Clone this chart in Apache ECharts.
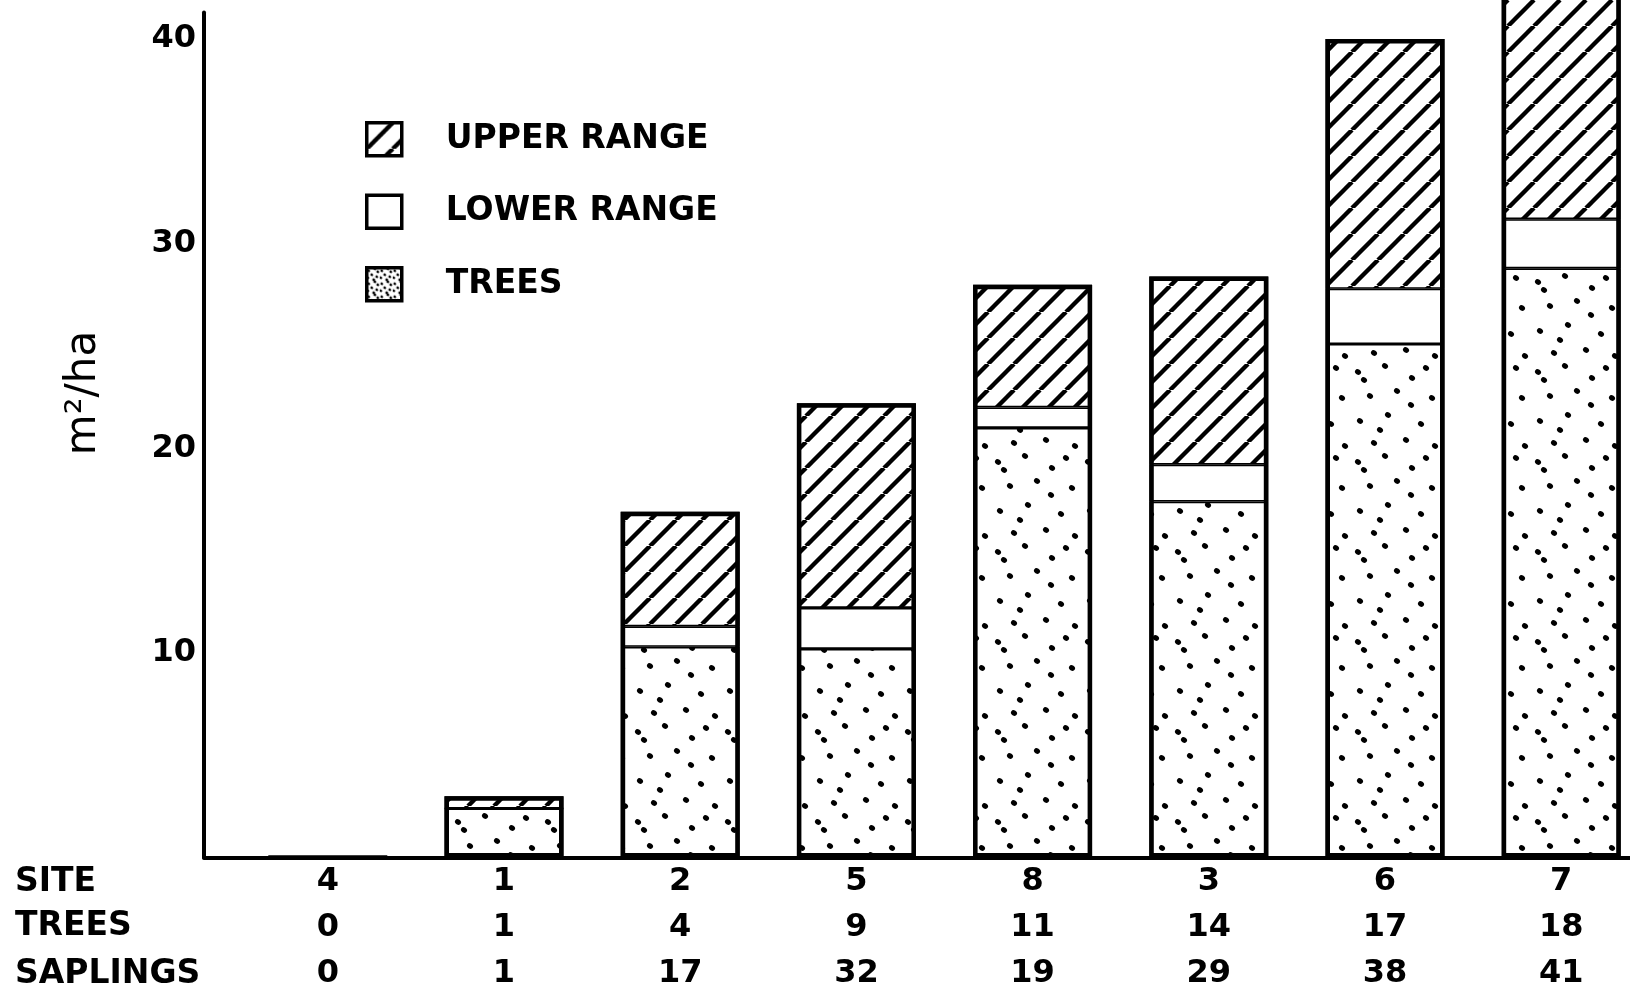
<!DOCTYPE html>
<html>
<head>
<meta charset="utf-8">
<script src="https://cdn.jsdelivr.net/npm/echarts@6/dist/echarts.min.js"></script>
<style>
html,body{margin:0;padding:0;background:#fff;}
#chart{width:1630px;height:992px;}
</style>
</head>
<body>
<div id="chart"></div>
<script>
// ---- data ----
const sites = ['4', '1', '2', '5', '8', '3', '6', '7'];
const treeCounts = ['0', '1', '4', '9', '11', '14', '17', '18'];
const saplingCounts = ['0', '1', '17', '32', '19', '29', '38', '41'];
const treesBA = [0, 2.4, 10.3, 10.2, 21.0, 17.4, 25.1, 28.8];
const lowerRange = [0, 0, 1.0, 2.0, 1.0, 1.8, 2.7, 2.4];
const upperRange = [0, 0.6, 5.6, 10.0, 6.0, 9.2, 12.2, 13.0];
const yTickLabels = [10, 20, 30, 40];
const rowTitles = ['SITE', 'TREES', 'SAPLINGS'];

// ---- textures ----
function hatchPattern() {
  const s = 26;
  const c = document.createElement('canvas');
  c.width = s; c.height = s;
  const g = c.getContext('2d');
  g.fillStyle = '#fff'; g.fillRect(0, 0, s, s);
  g.strokeStyle = '#000'; g.lineWidth = 4.4; g.lineCap = 'butt';
  for (let k = -1; k <= 1; k++) {
    g.beginPath();
    g.moveTo(k * s, s);
    g.lineTo(k * s + s, 0);
    g.stroke();
  }
  return { image: c, repeat: 'repeat' };
}
function dotPattern(s, dots, rx, ry) {
  const c = document.createElement('canvas');
  c.width = s; c.height = s;
  const g = c.getContext('2d');
  g.fillStyle = '#fff'; g.fillRect(0, 0, s, s);
  g.fillStyle = '#000';
  dots.forEach(function (d) {
    g.beginPath();
    g.ellipse(d[0], d[1], rx, ry, 0.6, 0, Math.PI * 2);
    g.fill();
  });
  return { image: c, repeat: 'repeat' };
}
const barDots = [[8,12],[35,6],[62,18],[82,38],[20,36],[47,31],[71,64],[10,61],[38,55],[56,80],[24,83],[85,86],[61,45],[30,70],[14,20],[76,8]];
const iconDots = [[2,3],[8,1],[5,7],[10,9],[1,10],[7,12],[11,4]];

const FONT = 'DejaVu Sans';
const chart = echarts.init(document.getElementById('chart'), null, { renderer: 'canvas' });
const BAR_W = 119;

function barSeries(name, values, color) {
  return {
    name: name,
    type: 'bar',
    stack: 'total',
    xAxisIndex: 1,
    yAxisIndex: 1,
    barWidth: BAR_W,
    barGap: '-100%',
    clip: false,
    itemStyle: { color: color, borderColor: '#000', borderWidth: 1.6 },
    emphasis: { disabled: true },
    data: values
  };
}

// outer outline of each stacked column (sum of the three segments)
const columnTotals = treesBA.map(function (v, i) { return v + lowerRange[i] + upperRange[i]; });

const Y_MAX = 41.3;
const option = {
  backgroundColor: '#fff',
  animation: false,
  grid: [
    { left: 204, right: 0, top: 12.5, bottom: 134.4, containLabel: false, outerBoundsMode: 'none' },
    { left: 239.7, right: -19.3, top: 12.5, bottom: 134.4, containLabel: false, outerBoundsMode: 'none' }
  ],
  legend: {
    orient: 'vertical',
    left: 365,
    top: 121,
    padding: 0,
    itemWidth: 35,
    itemHeight: 33,
    itemGap: 36,
    icon: 'rect',
    data: [
      { name: 'UPPER RANGE' },
      { name: 'LOWER RANGE' },
      { name: 'TREES', itemStyle: { color: dotPattern(13, iconDots, 1.5, 1.3) } }
    ],
    selectedMode: false,
    itemStyle: { borderWidth: 3.5, borderColor: '#000' },
    textStyle: { fontFamily: FONT, fontSize: 33, fontWeight: 'bold', color: '#000', padding: [0, 0, 0, 39] }
  },
  xAxis: [
    {
      gridIndex: 0,
      type: 'value',
      min: 0,
      max: 1,
      axisLine: { show: true, onZero: false, lineStyle: { color: '#000', width: 4 } },
      axisTick: { show: false },
      splitLine: { show: false },
      axisLabel: { show: false }
    },
    {
      gridIndex: 1,
      type: 'category',
      data: sites,
      axisLine: { show: false },
      axisTick: { show: false },
      splitLine: { show: false },
      axisLabel: {
        interval: 0,
        margin: 1,
        fontFamily: FONT,
        fontSize: 32,
        fontWeight: 'bold',
        color: '#000',
        lineHeight: 46,
        formatter: function (v, i) {
          return sites[i] + '\n' + treeCounts[i] + '\n' + saplingCounts[i];
        }
      }
    }
  ],
  yAxis: [
    {
      gridIndex: 0,
      type: 'value',
      min: 0,
      max: Y_MAX,
      axisLine: { show: true, onZero: false, lineStyle: { color: '#000', width: 4 } },
      axisTick: { show: false },
      splitLine: { show: false },
      axisLabel: {
        customValues: yTickLabels,
        margin: 8,
        fontFamily: FONT,
        fontSize: 32,
        fontWeight: 'bold',
        color: '#000'
      }
    },
    {
      gridIndex: 1,
      type: 'value',
      min: 0,
      max: Y_MAX,
      show: false,
      splitLine: { show: false }
    }
  ],
  graphic: [
    { type: 'text', x: 15, y: 882, style: { text: rowTitles[0], font: 'bold 33px "DejaVu Sans"', fill: '#000', verticalAlign: 'middle' } },
    { type: 'text', x: 15, y: 926, style: { text: rowTitles[1], font: 'bold 33px "DejaVu Sans"', fill: '#000', verticalAlign: 'middle' } },
    { type: 'text', x: 15, y: 974, style: { text: rowTitles[2], font: 'bold 33px "DejaVu Sans"', fill: '#000', verticalAlign: 'middle' } },
    { type: 'text', x: 84, y: 393, rotation: Math.PI / 2,
      style: { text: 'm²/ha', font: '42px "DejaVu Sans"', fill: '#000', align: 'center', verticalAlign: 'middle' } }
  ],
  series: [
    barSeries('TREES', treesBA, dotPattern(90, barDots, 3.2, 2.6)),
    barSeries('LOWER RANGE', lowerRange, '#fff'),
    barSeries('UPPER RANGE', upperRange, hatchPattern()),
    {
      name: 'outline',
      type: 'bar',
      xAxisIndex: 1,
      yAxisIndex: 1,
      barWidth: BAR_W,
      barGap: '-100%',
      clip: false,
      silent: true,
      itemStyle: { color: 'rgba(0,0,0,0)', borderColor: '#000', borderWidth: 4.5 },
      emphasis: { disabled: true },
      data: columnTotals
    }
  ]
};
chart.setOption(option);
</script>
</body>
</html>
